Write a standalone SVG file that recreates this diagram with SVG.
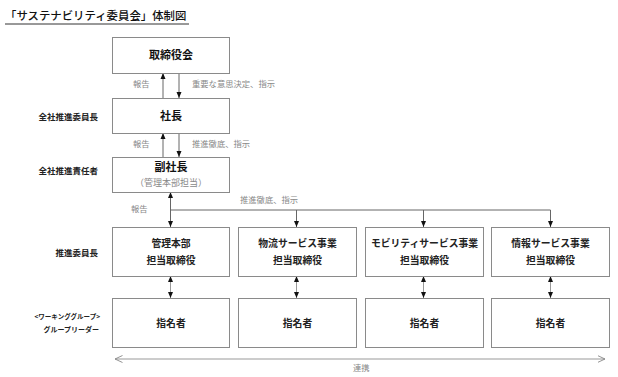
<svg xmlns="http://www.w3.org/2000/svg" width="618" height="377" viewBox="0 0 618 377">
<style>
text{font-family:"Noto Sans CJK JP","Noto Sans",sans-serif;}
.box{fill:#fff;stroke:#8a8a8a;stroke-width:1}
.nl{font-size:11px;font-weight:700;fill:#111;text-anchor:middle}
.rl{font-size:9.8px;font-weight:700;fill:#222;text-anchor:middle}
.sub{font-size:9px;fill:#888;text-anchor:middle}
.side{font-size:8.5px;font-weight:700;fill:#222;text-anchor:end}
.side2{font-size:7px;font-weight:700;fill:#222;text-anchor:end}
.lab{font-size:8.3px;fill:#888}
.ln{stroke:#666;stroke-width:1;fill:none}
.ln2{stroke:#999;stroke-width:1;fill:none}
</style>
<defs>
<marker id="ah" viewBox="0 0 6 6" refX="6" refY="3" markerWidth="6" markerHeight="6" orient="auto" markerUnits="userSpaceOnUse">
<path d="M0,0.5 L6,3 L0,5.5 Z" fill="#111"/>
</marker>
<marker id="oh" viewBox="0 0 8 8" refX="7.5" refY="4" markerWidth="8" markerHeight="8" orient="auto-start-reverse" markerUnits="userSpaceOnUse">
<path d="M0,0.5 L7.5,4 L0,7.5" fill="none" stroke="#888" stroke-width="0.9"/>
</marker>
</defs>

<g id="title">
<text x="5" y="20" style="font-size:11.4px;font-weight:500;fill:#111">「サステナビリティ委員会」体制図</text>
<line x1="5" y1="24" x2="189" y2="24" stroke="#333" stroke-width="1"/>
</g>

<g id="side-labels">
<text class="side" x="98" y="120">全社推進委員長</text>
<text class="side" x="98" y="174">全社推進責任者</text>
<text class="side" x="98" y="256">推進委員長</text>
<text class="side2" x="100" y="318.5" style="font-size:6.5px">&lt;ワーキンググループ&gt;</text>
<text class="side2" x="99" y="331.5">グループリーダー</text>
</g>

<g id="connectors">
<line class="ln" x1="163" y1="98" x2="163" y2="73" marker-end="url(#ah)"/>
<line class="ln" x1="179" y1="73" x2="179" y2="98" marker-end="url(#ah)"/>
<line class="ln" x1="163" y1="157" x2="163" y2="133" marker-end="url(#ah)"/>
<line class="ln" x1="179" y1="133" x2="179" y2="157" marker-end="url(#ah)"/>
<line class="ln" x1="170.5" y1="210" x2="170.5" y2="192" marker-end="url(#ah)"/>
<line class="ln" x1="170.5" y1="210" x2="170.5" y2="227" marker-end="url(#ah)"/>
<line class="ln" x1="170.5" y1="210" x2="550.5" y2="210"/>
<line class="ln" x1="296.5" y1="210" x2="296.5" y2="227" marker-end="url(#ah)"/>
<line class="ln" x1="423.5" y1="210" x2="423.5" y2="227" marker-end="url(#ah)"/>
<line class="ln" x1="550.5" y1="210" x2="550.5" y2="227" marker-end="url(#ah)"/>
<line class="ln2" x1="170.5" y1="287" x2="170.5" y2="276" marker-end="url(#ah)"/>
<line class="ln2" x1="170.5" y1="287" x2="170.5" y2="298" marker-end="url(#ah)"/>
<line class="ln2" x1="296.5" y1="287" x2="296.5" y2="276" marker-end="url(#ah)"/>
<line class="ln2" x1="296.5" y1="287" x2="296.5" y2="298" marker-end="url(#ah)"/>
<line class="ln2" x1="423.5" y1="287" x2="423.5" y2="276" marker-end="url(#ah)"/>
<line class="ln2" x1="423.5" y1="287" x2="423.5" y2="298" marker-end="url(#ah)"/>
<line class="ln2" x1="550.5" y1="287" x2="550.5" y2="276" marker-end="url(#ah)"/>
<line class="ln2" x1="550.5" y1="287" x2="550.5" y2="298" marker-end="url(#ah)"/>
<line class="ln2" x1="115" y1="359" x2="605" y2="359" marker-start="url(#oh)" marker-end="url(#oh)"/>
<text class="lab" x="133" y="87">報告</text>
<text class="lab" x="192" y="87">重要な意思決定、指示</text>
<text class="lab" x="133" y="147">報告</text>
<text class="lab" x="192" y="147">推進徹底、指示</text>
<text class="lab" x="131" y="212">報告</text>
<text class="lab" x="240" y="203">推進徹底、指示</text>
<text class="lab" x="353" y="371">連携</text>
</g>

<g id="board">
<rect class="box" x="112.5" y="37.5" width="117" height="36"/>
<text class="nl" x="171" y="59">取締役会</text>
</g>
<g id="president">
<rect class="box" x="112.5" y="98.5" width="117" height="35"/>
<text class="nl" x="171" y="120">社長</text>
</g>
<g id="vice-president">
<rect class="box" x="112.5" y="157.5" width="117" height="35"/>
<text class="nl" x="171" y="171">副社長</text>
<text class="sub" x="171" y="186">（管理本部担当）</text>
</g>

<g id="dir-admin">
<rect class="box" x="112.5" y="227.5" width="117" height="49"/>
<text class="rl" x="171" y="246.5">管理本部</text>
<text class="rl" x="171" y="263.5">担当取締役</text>
</g>
<g id="dir-logistics">
<rect class="box" x="238.5" y="227.5" width="118" height="49"/>
<text class="rl" x="297.5" y="246.5">物流サービス事業</text>
<text class="rl" x="297.5" y="263.5">担当取締役</text>
</g>
<g id="dir-mobility">
<rect class="box" x="365.5" y="227.5" width="118" height="49"/>
<text class="rl" x="424.5" y="246.5">モビリティサービス事業</text>
<text class="rl" x="424.5" y="263.5">担当取締役</text>
</g>
<g id="dir-info">
<rect class="box" x="491.5" y="227.5" width="118" height="49"/>
<text class="rl" x="550.5" y="246.5">情報サービス事業</text>
<text class="rl" x="550.5" y="263.5">担当取締役</text>
</g>

<g id="wg-admin">
<rect class="box" x="112.5" y="298.5" width="117" height="49"/>
<text class="rl" x="171" y="326.5">指名者</text>
</g>
<g id="wg-logistics">
<rect class="box" x="238.5" y="298.5" width="118" height="49"/>
<text class="rl" x="297.5" y="326.5">指名者</text>
</g>
<g id="wg-mobility">
<rect class="box" x="365.5" y="298.5" width="118" height="49"/>
<text class="rl" x="424.5" y="326.5">指名者</text>
</g>
<g id="wg-info">
<rect class="box" x="491.5" y="298.5" width="118" height="49"/>
<text class="rl" x="550.5" y="326.5">指名者</text>
</g>
</svg>
